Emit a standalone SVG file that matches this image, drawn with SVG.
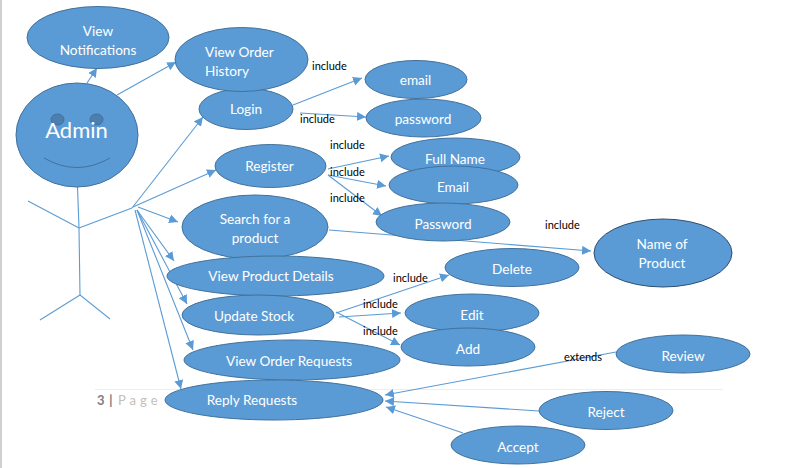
<svg xmlns="http://www.w3.org/2000/svg" width="807" height="468" viewBox="0 0 807 468">
<defs>
<marker id="a" markerUnits="userSpaceOnUse" markerWidth="11" markerHeight="10" refX="9" refY="4.5" orient="auto"><path d="M0 0L9 4.5L0 9Z" fill="#5b9bd5"/></marker>
</defs>
<style>
.n{fill:#5b9bd5;stroke:#41719c;stroke-width:1}
.t{font-family:Lato,"Noto Sans",sans-serif;font-size:13.600px;fill:#fff;text-anchor:middle}
.l{font-family:Lato,"Noto Sans",sans-serif;font-size:11px;fill:#000}
.c line{stroke:#5b9bd5;stroke-width:1.1;fill:none}
.c line.h{marker-end:url(#a)}
</style>
<rect x="0" y="0" width="2" height="468" fill="#d0d0d0"/>
<rect x="95" y="389" width="628" height="1" fill="#eeeeee"/>
<text x="97" y="405" font-family="Lato,sans-serif" font-size="13px" font-weight="700" fill="#7f7f7f">3</text>
<text x="109" y="405" font-family="Lato,sans-serif" font-size="14px" font-weight="700" fill="#7f7f7f">|</text>
<text x="118" y="405" font-family="Lato,sans-serif" font-size="13px" letter-spacing="4" fill="#bfbfbf">Page</text>
<g id="connectors" class="c">
<line x1="77.500" y1="187" x2="79" y2="228"/>
<line x1="79" y1="228" x2="80" y2="295"/>
<line x1="28" y1="201" x2="79" y2="228"/>
<line x1="79" y1="228" x2="132" y2="208"/>
<line x1="80" y1="295" x2="40" y2="320"/>
<line x1="80" y1="295" x2="110" y2="319"/>
<line class="h" x1="87" y1="83" x2="97" y2="68"/>
<line class="h" x1="117" y1="95" x2="176" y2="62"/>
<line class="h" x1="132" y1="208" x2="203" y2="117"/>
<line class="h" x1="133" y1="207" x2="216" y2="170"/>
<line class="h" x1="138" y1="207" x2="178" y2="222"/>
<line class="h" x1="137" y1="210" x2="174" y2="261"/>
<line class="h" x1="137" y1="210" x2="187" y2="304"/>
<line class="h" x1="137" y1="210" x2="193" y2="350"/>
<line class="h" x1="135" y1="210" x2="181" y2="389"/>
<line class="h" x1="293" y1="105" x2="362" y2="78"/>
<line class="h" x1="300" y1="113" x2="366" y2="117"/>
<line class="h" x1="328" y1="169" x2="389" y2="156"/>
<line class="h" x1="328" y1="175" x2="386" y2="186"/>
<line class="h" x1="328" y1="175" x2="382" y2="216"/>
<line class="h" x1="329" y1="230" x2="591" y2="251"/>
<line class="h" x1="336" y1="313" x2="449" y2="275"/>
<line class="h" x1="339" y1="317" x2="401" y2="313"/>
<line class="h" x1="336" y1="312" x2="400" y2="345"/>
<line class="h" x1="616" y1="352" x2="385" y2="395"/>
<line class="h" x1="539" y1="411" x2="385" y2="401"/>
<line class="h" x1="463" y1="433" x2="386" y2="407"/>
</g>
<g id="admin"><ellipse class="n" cx="77" cy="135" rx="61" ry="52"/><ellipse cx="57.500" cy="119.500" rx="6.500" ry="5.500" fill="#4a7fb0" stroke="#41719c"/><ellipse cx="96.500" cy="119.500" rx="6.500" ry="5.500" fill="#4a7fb0" stroke="#41719c"/><path d="M44 158Q77 177 110 158" fill="none" stroke="#41719c" stroke-width="1"/><text class="t" x="76.500" y="138" style="font-size:22px">Admin</text></g>
<g id="view-notifications"><ellipse class="n" cx="98" cy="37.500" rx="71" ry="31"/><text class="t" x="98" y="36">View</text><text class="t" x="98" y="55">Notifications</text></g>
<g id="login"><ellipse class="n" cx="246" cy="109" rx="47" ry="20.500"/><text class="t" x="246" y="114">Login</text></g>
<g id="view-order-history"><ellipse class="n" cx="241.500" cy="59.500" rx="66.500" ry="32"/><text class="t" x="205" y="56.500" style="text-anchor:start">View Order</text><text class="t" x="205" y="75.500" style="text-anchor:start">History</text></g>
<g id="register"><ellipse class="n" cx="270.500" cy="166" rx="55.500" ry="21.500"/><text class="t" x="269.500" y="170.500">Register</text></g>
<g id="search"><ellipse class="n" cx="255" cy="227" rx="73" ry="32"/><text class="t" x="255" y="224">Search for a</text><text class="t" x="255" y="243">product</text></g>
<g id="view-product-details"><ellipse class="n" cx="275.500" cy="276" rx="108.500" ry="20"/><text class="t" x="271" y="281">View Product Details</text></g>
<g id="update-stock"><ellipse class="n" cx="258" cy="315" rx="76" ry="20"/><text class="t" x="254" y="321">Update Stock</text></g>
<g id="view-order-requests"><ellipse class="n" cx="292" cy="360" rx="108" ry="20"/><text class="t" x="289" y="366">View Order Requests</text></g>
<g id="reply-requests"><ellipse class="n" cx="274" cy="400" rx="109" ry="20"/><text class="t" x="252" y="405">Reply Requests</text></g>
<g id="email"><ellipse class="n" cx="416" cy="79.500" rx="51" ry="19"/><text class="t" x="415.500" y="85">email</text></g>
<g id="password"><ellipse class="n" cx="423.500" cy="118" rx="57.500" ry="19"/><text class="t" x="423" y="124">password</text></g>
<g id="full-name"><ellipse class="n" cx="455.500" cy="157" rx="64.500" ry="19"/><text class="t" x="455" y="163.500">Full Name</text></g>
<g id="email-2"><ellipse class="n" cx="453.500" cy="185" rx="64.500" ry="19"/><text class="t" x="453" y="191.500">Email</text></g>
<g id="password-2"><ellipse class="n" cx="443" cy="222" rx="67" ry="19"/><text class="t" x="443" y="228.500">Password</text></g>
<g id="name-of-product"><ellipse class="n" cx="663" cy="253" rx="69" ry="34" style="stroke:#2f4f6f"/><text class="t" x="662" y="248.500">Name of</text><text class="t" x="662" y="267.500">Product</text></g>
<g id="delete"><ellipse class="n" cx="512" cy="267.500" rx="67" ry="19"/><text class="t" x="512" y="273.500">Delete</text></g>
<g id="edit"><ellipse class="n" cx="472" cy="313" rx="67" ry="19"/><text class="t" x="472" y="320">Edit</text></g>
<g id="add"><ellipse class="n" cx="468" cy="347" rx="67" ry="19"/><text class="t" x="468" y="353.500">Add</text></g>
<g id="review"><ellipse class="n" cx="683" cy="354" rx="67" ry="19"/><text class="t" x="683" y="360.500">Review</text></g>
<g id="reject"><ellipse class="n" cx="606" cy="410.500" rx="67" ry="19"/><text class="t" x="606" y="416.500">Reject</text></g>
<g id="accept"><ellipse class="n" cx="518" cy="445" rx="67" ry="19"/><text class="t" x="518" y="451.500">Accept</text></g>
<g id="labels">
<text class="l" x="312" y="70">include</text>
<text class="l" x="300" y="123">include</text>
<text class="l" x="330" y="149">include</text>
<text class="l" x="330" y="176">include</text>
<text class="l" x="330" y="202">include</text>
<text class="l" x="545" y="229">include</text>
<text class="l" x="393" y="282">include</text>
<text class="l" x="363" y="308">include</text>
<text class="l" x="363" y="335">include</text>
<text class="l" x="564" y="361">extends</text>
</g>
</svg>
